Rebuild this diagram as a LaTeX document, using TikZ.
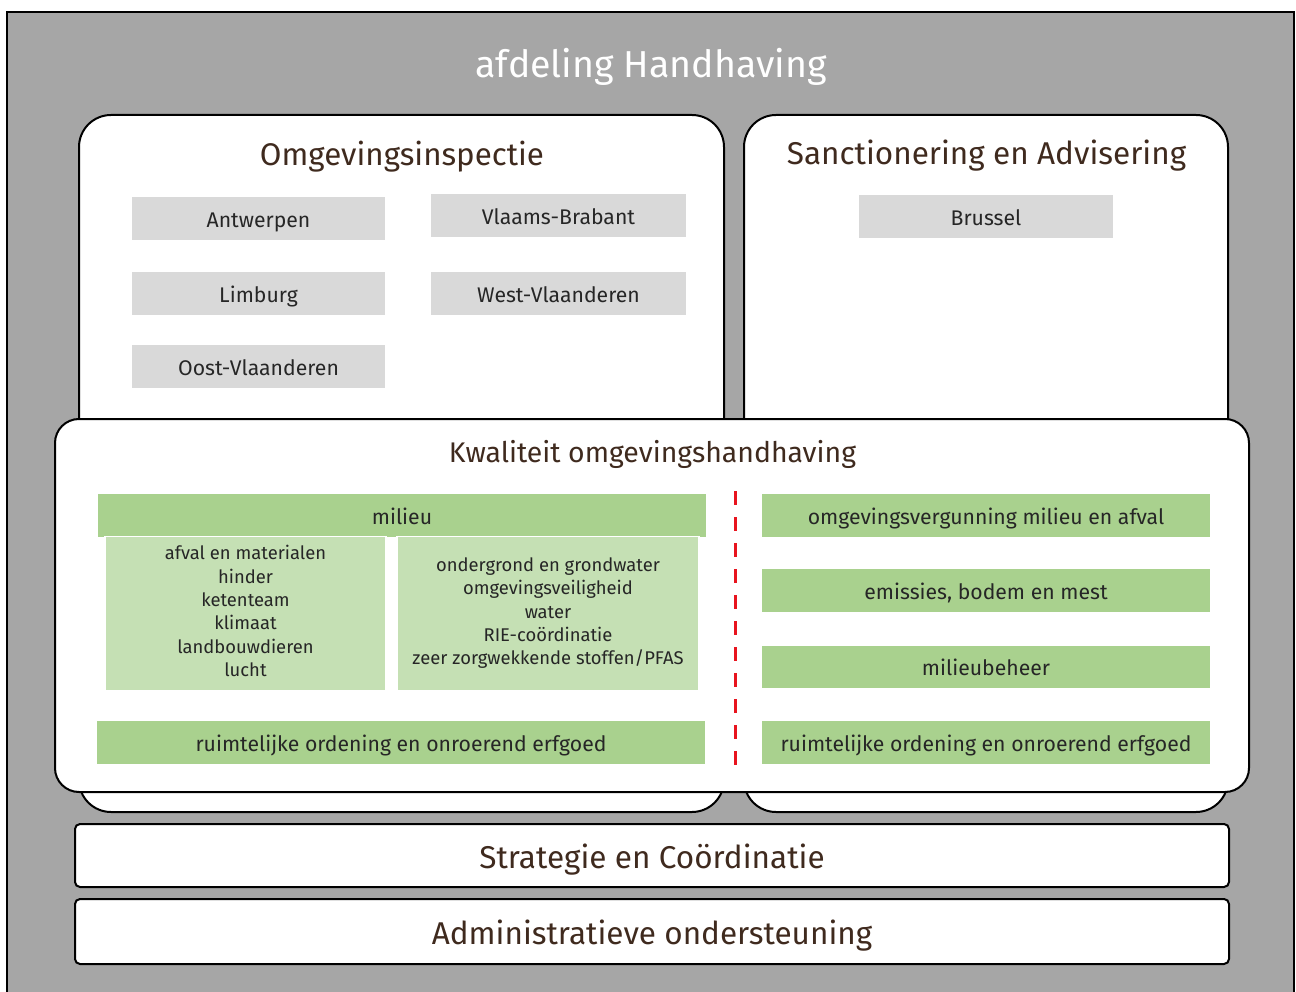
\documentclass[tikz,border=0pt]{standalone}
\usepackage{fontspec}
\setmainfont{Fira Sans}
\definecolor{bggray}{HTML}{A6A6A6}
\definecolor{boxgray}{HTML}{D9D9D9}
\definecolor{green1}{HTML}{A9D18E}
\definecolor{green2}{HTML}{C5E0B4}
\definecolor{titlebrown}{HTML}{3F2A1E}
\definecolor{txt}{HTML}{262626}
\definecolor{divred}{HTML}{E8141E}
\newcommand{\fs}[2]{\fontsize{#1}{#2}\selectfont}
\newcommand{\lstrut}{\rule[-7pt]{0pt}{23.3pt}}
\begin{document}
\begin{tikzpicture}[x=1pt,y=-1pt,
  panel/.style={draw=black, line width=2pt, fill=white, inner sep=0pt},
  ttl/.style={text=titlebrown, inner sep=0pt, anchor=base},
  boxtext/.style={text height=17.5pt, text depth=0pt},
  grbox/.style={fill=boxgray, inner sep=0pt, text=txt, font=\fs{21.2}{25}, boxtext},
  gbar/.style={fill=green1, inner sep=0pt, text=txt, font=\fs{21.2}{25}, boxtext},
  lgbox/.style={fill=green2, draw=white, line width=1.5pt, inner sep=0pt, text=txt, align=center, font=\fs{18.4}{23.3}},
  barbox/.style={panel, rounded corners=5pt, minimum width=1154, font=\fs{31.5}{36}, text=titlebrown, text height=26pt, text depth=0pt},
  divider/.style={draw=divred, line width=3pt, dash pattern=on 13.5pt off 12.5pt}
]
\useasboundingbox (0,0) rectangle (1296,992);
\fill[white] (0,0) rectangle (1296,992);
\draw[line width=2pt, fill=bggray] (7,12) rectangle (1294,1004);

\node[ttl, text=white, font=\fs{37.5}{42}] (main) at (651,78) {afdeling Handhaving};

% top panels
\node[panel, rounded corners=32pt, minimum width=645, minimum height=697] (oi) at (401.5,463.5) {};
\node[panel, rounded corners=32pt, minimum width=484, minimum height=697] (sa) at (986,463.5) {};
\node[ttl, font=\fs{31.3}{36}] (oit) at (402,166) {Omgevingsinspectie};
\node[ttl, font=\fs{31.5}{36}] (sat) at (986.5,164.5) {Sanctionering en Advisering};

\node[grbox, minimum width=253, minimum height=43] (antw) at (258.5,218.5) {Antwerpen};
\node[grbox, minimum width=255, minimum height=43] (vlb) at (558.5,215.5) {Vlaams-Brabant};
\node[grbox, minimum width=253, minimum height=43] (limb) at (258.5,293.5) {Limburg};
\node[grbox, minimum width=255, minimum height=43] (wvl) at (558.5,293.5) {West-Vlaanderen};
\node[grbox, minimum width=253, minimum height=43] (ovl) at (258.5,366.5) {Oost-Vlaanderen};
\node[grbox, minimum width=254, minimum height=43] (brus) at (986,216.5) {Brussel};

% middle panel
\node[panel, rounded corners=24pt, minimum width=1194, minimum height=373] (kw) at (652,605.5) {};
\node[ttl, font=\fs{28.4}{33}] (kwt) at (652.5,462.5) {Kwaliteit omgevingshandhaving};

\node[gbar, minimum width=608, minimum height=43] (mil) at (402,515.5) {milieu};
\node[lgbox, minimum width=281, minimum height=154] (mila) at (245.5,613.5) {\lstrut afval en materialen\\hinder\\ketenteam\\klimaat\\landbouwdieren\\lucht\lstrut};
\node[lgbox, minimum width=302, minimum height=154] (milb) at (548,613.5) {\lstrut ondergrond en grondwater\\omgevingsveiligheid\\water\\RIE-coördinatie\\zeer zorgwekkende stoffen/PFAS\lstrut};
\node[gbar, minimum width=608, minimum height=43] (roL) at (401,742.5) {ruimtelijke ordening en onroerend erfgoed};

\node[gbar, minimum width=448, minimum height=43] (ovm) at (986,515.5) {omgevingsvergunning milieu en afval};
\node[gbar, minimum width=448, minimum height=43] (ebm) at (986,590.5) {emissies, bodem en mest};
\node[gbar, minimum width=448, minimum height=42] (mb) at (986,667) {milieubeheer};
\node[gbar, minimum width=448, minimum height=43] (roR) at (986,742.5) {ruimtelijke ordening en onroerend erfgoed};

\coordinate (dtop) at (735,491);
\coordinate (dbot) at (735,772);
\draw[divider] (dtop) -- (dbot);

% bottom bars
\node[barbox, minimum height=63] (strat) at (652,855.5) {Strategie en Coördinatie};
\node[barbox, minimum height=65] (adm) at (652,931.5) {Administratieve ondersteuning};
\end{tikzpicture}
\end{document}
